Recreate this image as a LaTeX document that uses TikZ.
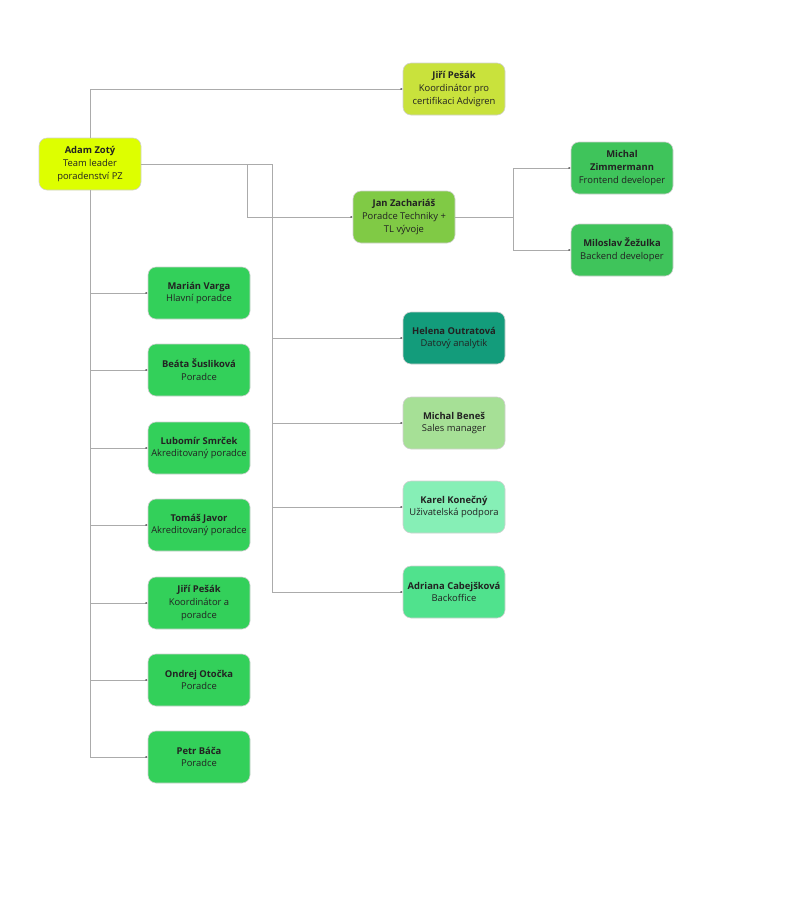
\documentclass[tikz,border=0pt]{standalone}
\usepackage{fontspec}
\setmainfont{Open Sans}
\usepackage{xcolor}
\usepackage{tikz}
\usetikzlibrary{calc, arrows.meta}

\definecolor{cLead}{HTML}{DDFF00}
\definecolor{cCert}{HTML}{C9E23C}
\definecolor{cTech}{HTML}{80CA45}
\definecolor{cDev}{HTML}{3FC45B}
\definecolor{cPor}{HTML}{33D05A}
\definecolor{cData}{HTML}{139C7B}
\definecolor{cSales}{HTML}{A6E096}
\definecolor{cSupp}{HTML}{86EFB6}
\definecolor{cBack}{HTML}{50E28D}
\definecolor{cLine}{HTML}{ABABAB}
\definecolor{cText}{HTML}{222222}

\newcommand{\osoba}[2]{\textbf{#1}\\#2}

\begin{document}
\begin{tikzpicture}[x=1pt, y=-1pt,
    box/.style={draw=black!18, line width=0.6pt, rounded corners=8pt,
        minimum width=102pt, minimum height=52pt, align=center,
        font=\fontsize{9.4}{12.8}\selectfont, text=cText, inner sep=2pt},
    conn/.style={draw=cLine, line width=0.6pt,
        -{Latex[length=2pt, width=2pt, color=black!70]}},
    trunk/.style={draw=cLine, line width=0.6pt}]

    % =================================================================
    % 1. PLOCHA OBRÁZKU
    % =================================================================
    \useasboundingbox[fill=white] (0,0) rectangle (805,898);

    % =================================================================
    % 2. UZLY
    % =================================================================
    \node[box, fill=cLead]  (adam)    at (90,164)  {\osoba{Adam Zotý}{Team leader\\poradenství PZ}};
    \node[box, fill=cCert]  (pesakA)  at (454,89)  {\osoba{Jiří Pešák}{Koordinátor pro\\certifikaci Advigren}};
    \node[box, fill=cTech]  (jan)     at (404,217) {\osoba{Jan Zachariáš}{Poradce Techniky +\\TL vývoje}};
    \node[box, fill=cDev]   (zimmer)  at (622,168) {\textbf{Michal}\\\textbf{Zimmermann}\\Frontend developer};
    \node[box, fill=cDev]   (zezulka) at (622,250) {\osoba{Miloslav Žežulka}{Backend developer}};

    % levý sloupec poradců
    \node[box, fill=cPor] (varga)  at (199,293) {\osoba{Marián Varga}{Hlavní poradce}};
    \node[box, fill=cPor] (beata)  at (199,370) {\osoba{Beáta Šusliková}{Poradce}};
    \node[box, fill=cPor] (smrcek) at (199,448) {\osoba{Lubomír Smrček}{Akreditovaný poradce}};
    \node[box, fill=cPor] (javor)  at (199,525) {\osoba{Tomáš Javor}{Akreditovaný poradce}};
    \node[box, fill=cPor] (pesakB) at (199,603) {\osoba{Jiří Pešák}{Koordinátor a\\poradce}};
    \node[box, fill=cPor] (otocka) at (199,680) {\osoba{Ondrej Otočka}{Poradce}};
    \node[box, fill=cPor] (baca)   at (199,757) {\osoba{Petr Báča}{Poradce}};

    % pravý sloupec
    \node[box, fill=cData]  (helena)  at (454,338) {\osoba{Helena Outratová}{Datový analytik}};
    \node[box, fill=cSales] (benes)   at (454,423) {\osoba{Michal Beneš}{Sales manager}};
    \node[box, fill=cSupp]  (konecny) at (454,507) {\osoba{Karel Konečný}{Uživatelská podpora}};
    \node[box, fill=cBack]  (adriana) at (454,592) {\osoba{Adriana Cabejšková}{Backoffice}};

    % =================================================================
    % 3. SPOJNICE
    % =================================================================
    \coordinate (odbJan) at (247,164);
    \coordinate (odbPrava) at (272,164);
    \coordinate (odbDev) at (513,217);

    \draw[conn] (adam.north) |- (pesakA.west);

    \draw[trunk] (adam.south) -- (adam.south |- baca.west);
    \foreach \n in {varga, beata, smrcek, javor, pesakB, otocka, baca}
        \draw[conn] (adam.south |- \n.west) -- (\n.west);

    \draw[trunk] (adam.east) -- (odbPrava) -- (odbPrava |- adriana.west);
    \draw[conn] (odbJan) |- (jan.west);
    \foreach \n in {helena, benes, konecny, adriana}
        \draw[conn] (odbPrava |- \n.west) -- (\n.west);

    \draw[trunk] (jan.east) -- (odbDev);
    \draw[conn] (odbDev) |- (zimmer.west);
    \draw[conn] (odbDev) |- (zezulka.west);

\end{tikzpicture}
\end{document}
